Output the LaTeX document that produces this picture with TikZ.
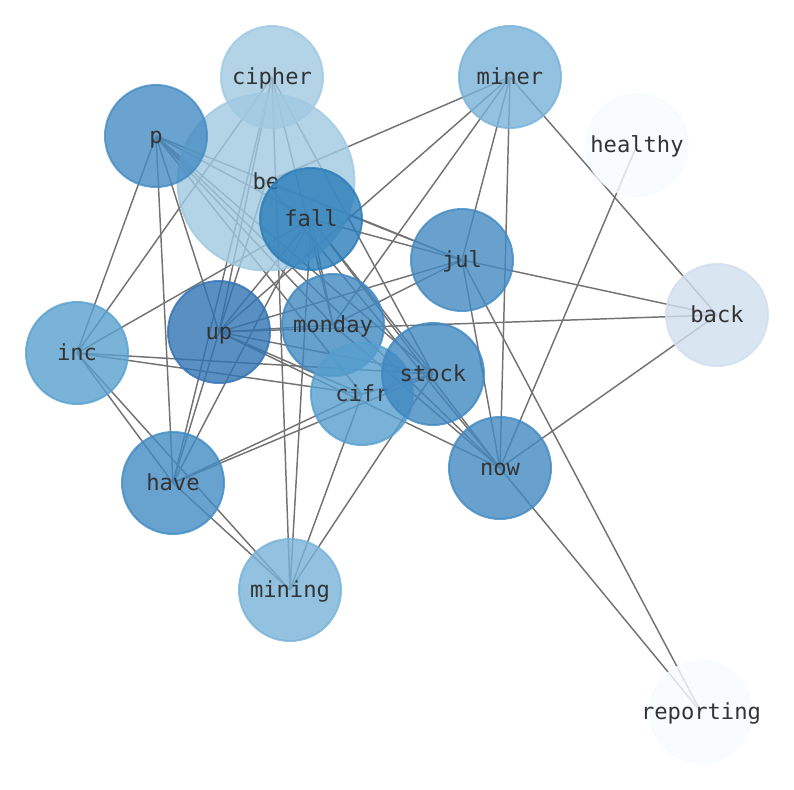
\documentclass[tikz,border=0pt]{standalone}
\usepackage{fontspec}
\setmonofont{DejaVu Sans Mono}
\usetikzlibrary{backgrounds}
\definecolor{cCipher}{RGB}{160,201,225}
\definecolor{cBe}{RGB}{160,201,225}
\definecolor{cMiner}{RGB}{119,179,216}
\definecolor{cMining}{RGB}{119,179,216}
\definecolor{cP}{RGB}{69,140,195}
\definecolor{cFall}{RGB}{42,125,186}
\definecolor{cJul}{RGB}{67,138,194}
\definecolor{cBack}{RGB}{209,222,239}
\definecolor{cHealthy}{RGB}{247,251,255}
\definecolor{cUp}{RGB}{49,115,179}
\definecolor{cMonday}{RGB}{64,136,193}
\definecolor{cInc}{RGB}{89,160,206}
\definecolor{cStock}{RGB}{64,136,193}
\definecolor{cCifr}{RGB}{86,159,207}
\definecolor{cNow}{RGB}{67,138,194}
\definecolor{cHave}{RGB}{66,139,195}
\definecolor{edgegray}{RGB}{115,115,115}
\tikzset{
  nd/.style={circle, minimum size=76.5pt, inner sep=0pt, line width=1.5pt, opacity=0.8,
    text opacity=1, font=\ttfamily\fontsize{16.6pt}{18pt}\selectfont, text=black!80},
  bignd/.style={nd, minimum size=132.75pt},
  lnk/.style={draw=edgegray, line width=1.1pt}
}
\newcommand{\lbl}[1]{\makebox[0pt][c]{\smash{\raisebox{-5.6pt}{#1}}}}
\begin{document}
\begin{tikzpicture}[x=0.75pt,y=-0.75pt]
\useasboundingbox (0,0) rectangle (794,790);
\node[bignd, fill=cBe, draw=cBe] (be) at (266,182) {\lbl{be}};
\node[nd, fill=cCipher, draw=cCipher] (cipher) at (272,77) {\lbl{cipher}};
\node[nd, fill=cMiner, draw=cMiner] (miner) at (510,77) {\lbl{miner}};
\node[nd, fill=cP, draw=cP] (p) at (156,136) {\lbl{p}};
\node[nd, fill=cHealthy, draw=cHealthy] (healthy) at (637,145) {\lbl{healthy}};
\node[nd, fill=cFall, draw=cFall] (fall) at (311,219) {\lbl{fall}};
\node[nd, fill=cJul, draw=cJul] (jul) at (462,260) {\lbl{jul}};
\node[nd, fill=cBack, draw=cBack] (back) at (717,315) {\lbl{back}};
\node[nd, fill=cUp, draw=cUp] (up) at (219,332) {\lbl{up}};
\node[nd, fill=cMonday, draw=cMonday] (monday) at (333,325) {\lbl{monday}};
\node[nd, fill=cInc, draw=cInc] (inc) at (77,353) {\lbl{inc}};
\node[nd, fill=cCifr, draw=cCifr] (cifr) at (362,394) {\lbl{cifr}};
\node[nd, fill=cStock, draw=cStock] (stock) at (433,374) {\lbl{stock}};
\node[nd, fill=cNow, draw=cNow] (now) at (500,468) {\lbl{now}};
\node[nd, fill=cHave, draw=cHave] (have) at (173,483) {\lbl{have}};
\node[nd, fill=cMining, draw=cMining] (mining) at (290,590) {\lbl{mining}};
\node[nd, fill=cHealthy, draw=cHealthy] (reporting) at (701,712) {\lbl{reporting}};
\begin{pgfonlayer}{background}
\foreach \a/\b in {p/inc, p/have, p/up, p/jul, p/monday, p/stock, p/now, p/cifr, p/fall,
  cipher/inc, cipher/have, cipher/mining, cipher/monday, cipher/stock, cipher/up,
  miner/be, miner/up, miner/monday, miner/jul, miner/now, miner/back,
  healthy/now, jul/back, jul/now, jul/reporting, now/reporting, back/up, back/now,
  inc/fall, inc/cifr, inc/stock, inc/have, inc/mining,
  have/mining, have/cifr, have/stock, have/up, have/fall,
  mining/fall, mining/cifr, mining/stock,
  up/fall, up/be, up/jul, up/monday, up/stock, up/cifr, up/now,
  fall/jul, fall/now, fall/stock, fall/monday, be/jul, be/now,
  monday/jul, monday/now, stock/cifr}
  \draw[lnk] (\a.center) -- (\b.center);
\end{pgfonlayer}
\end{tikzpicture}
\end{document}
